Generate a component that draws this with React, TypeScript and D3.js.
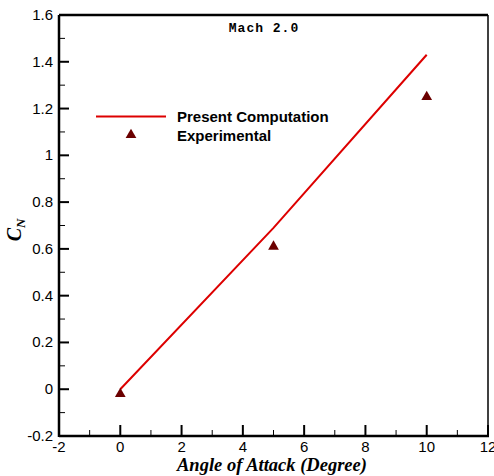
import React from "react";
import * as d3 from "d3";

const computedAlpha = [0, 5, 10];
const computedCN = [0, 0.69, 1.43];
const expAlpha = [0, 5, 10];
const expCN = [-0.02, 0.61, 1.25];
const xTicks = [-2, 0, 2, 4, 6, 8, 10, 12];
const yTicks = [-0.2, 0, 0.2, 0.4, 0.6, 0.8, 1, 1.2, 1.4, 1.6];
const xMinor = [-1, 1, 3, 5, 7, 9, 11];
const yMinor = [-0.1, 0.1, 0.3, 0.5, 0.7, 0.9, 1.1, 1.3, 1.5];

const W = 494, H = 476;
const L = 59, R = 488, T = 15, B = 436;

export default function App() {
  const x = d3.scaleLinear().domain([-2, 12]).range([L, R]);
  const y = d3.scaleLinear().domain([-0.2, 1.6]).range([B, T]);
  const line = d3.line<number>().x((d, i) => x(computedAlpha[i])).y((d) => y(d));
  const tri = d3.symbol().type(d3.symbolTriangle).size(50)()!;
  const tickFont = "Arial, 'Liberation Sans', sans-serif";
  return (
    <svg width={W} height={H} style={{ position: "absolute", left: 0, top: 0, background: "#fff" }}>
      <rect x={0} y={0} width={W} height={H} fill="#fff" />
      {yTicks.map((t) => (
        <g key={"y" + t}>
          <line x1={L} x2={L + 10} y1={y(t)} y2={y(t)} stroke="#000" strokeWidth={2} />
          <text x={L - 6} y={y(t) + 5} textAnchor="end" fontFamily={tickFont} fontSize={15} fill="#000">
            {String(+t.toFixed(1))}
          </text>
        </g>
      ))}
      {yMinor.map((t) => (
        <line key={"ym" + t} x1={L} x2={L + 6} y1={y(t)} y2={y(t)} stroke="#000" strokeWidth={1} />
      ))}
      {xTicks.map((t) => (
        <g key={"x" + t}>
          <line x1={x(t)} x2={x(t)} y1={B} y2={B - 11} stroke="#000" strokeWidth={2} />
          <text x={x(t)} y={B + 16} textAnchor="middle" fontFamily={tickFont} fontSize={15} fill="#000">
            {String(t)}
          </text>
        </g>
      ))}
      {xMinor.map((t) => (
        <line key={"xm" + t} x1={x(t)} x2={x(t)} y1={B} y2={B - 6} stroke="#000" strokeWidth={1} />
      ))}
      <line x1={L} x2={R} y1={T} y2={T} stroke="#000" strokeWidth={2.5} />
      <line x1={R} x2={R} y1={T} y2={B} stroke="#000" strokeWidth={1.5} />
      <line x1={L} x2={L} y1={T} y2={B + 1} stroke="#000" strokeWidth={2.5} />
      <line x1={L} x2={R + 1} y1={B} y2={B} stroke="#000" strokeWidth={2.5} />
      <path d={line(computedCN) || ""} fill="none" stroke="#dd0000" strokeWidth={2} />
      {expCN.map((v, i) => (
        <path key={"e" + i} d={tri} transform={`translate(${x(expAlpha[i])},${y(v)})`} fill="#6b0000" />
      ))}
      <line x1={96} x2={166} y1={116.5} y2={116.5} stroke="#dd0000" strokeWidth={2} />
      <text x={177} y={122} fontFamily={tickFont} fontWeight="bold" fontSize={15} fill="#000">Present Computation</text>
      <path d={tri} transform="translate(131,135)" fill="#6b0000" />
      <text x={177} y={141} fontFamily={tickFont} fontWeight="bold" fontSize={15} fill="#000">Experimental</text>
      <text x={264} y={32} textAnchor="middle" fontFamily="'Liberation Mono', 'Courier New', monospace" fontWeight="bold" fontSize={13} letterSpacing={1} fill="#000">Mach 2.0</text>
      <text x={272} y={471} textAnchor="middle" fontFamily="'Liberation Serif', 'Times New Roman', serif" fontWeight="bold" fontStyle="italic" fontSize={18.5} fill="#000">Angle of Attack (Degree)</text>
      <text transform="translate(21,230) rotate(-90)" textAnchor="middle" fontFamily="'Liberation Serif', 'Times New Roman', serif" fontWeight="bold" fontStyle="italic" fill="#000">
        <tspan fontSize={20}>C</tspan>
        <tspan fontSize={13} dy={4}>N</tspan>
      </text>
    </svg>
  );
}
